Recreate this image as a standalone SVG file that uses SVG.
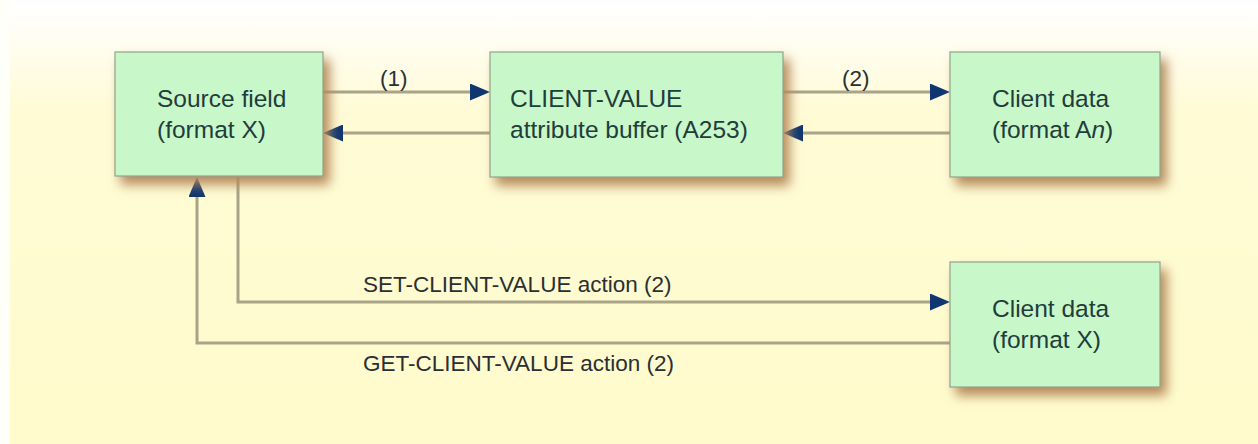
<svg xmlns="http://www.w3.org/2000/svg" width="1258" height="444" viewBox="0 0 1258 444">
  <defs>
    <linearGradient id="bg" x1="0" y1="0" x2="0" y2="1">
      <stop offset="0" stop-color="#ffffff"/>
      <stop offset="0.05" stop-color="#fffef8"/>
      <stop offset="0.25" stop-color="#fffbd6"/>
      <stop offset="1" stop-color="#fffbcc"/>
    </linearGradient>
    <filter id="shadow" x="-20%" y="-20%" width="150%" height="160%">
      <feDropShadow dx="6" dy="8" stdDeviation="6" flood-color="#b5895a" flood-opacity="1"/>
    </filter>
    <marker id="arrow" markerUnits="userSpaceOnUse" markerWidth="20" markerHeight="17" refX="0" refY="8.5" orient="auto">
      <path d="M0,0 L20,8.5 L0,17 Z" fill="#0f3670"/>
    </marker>
    <style>
      .box { fill: #c8f7ca; stroke: #8fa38c; stroke-width: 1.2; filter: url(#shadow); }
      .btxt { font-family: "Liberation Sans", Arial, sans-serif; font-size: 24.5px; fill: #1f3d3a; }
      .ltxt { font-family: "Liberation Sans", Arial, sans-serif; font-size: 22.5px; fill: #2a2f33; }
      .conn { fill: none; stroke: #a9a388; stroke-width: 3; marker-end: url(#arrow); }
    </style>
  </defs>

  <!-- backdrop -->
  <rect x="0" y="0" width="1258" height="444" fill="#fffffa"/>
  <rect x="10" y="0" width="1248" height="444" fill="url(#bg)"/>

  <!-- connectors -->
  <g id="connectors">
    <path class="conn" d="M323,92 H470"/>
    <path class="conn" d="M490,133 H343"/>
    <path class="conn" d="M783,92 H930"/>
    <path class="conn" d="M950,133 H803"/>
    <path class="conn" d="M238,177 V302 H930"/>
    <path class="conn" d="M950,343 H197 V197"/>
    <text class="ltxt" x="380" y="86">(1)</text>
    <text class="ltxt" x="842" y="86">(2)</text>
    <text class="ltxt" x="363" y="292">SET-CLIENT-VALUE action (2)</text>
    <text class="ltxt" x="363" y="371">GET-CLIENT-VALUE action (2)</text>
  </g>

  <g id="source-field">
    <rect class="box" x="115" y="52" width="208" height="124"/>
    <text class="btxt" x="157" y="107">Source field</text>
    <text class="btxt" x="157" y="138">(format X)</text>
  </g>

  <g id="client-value-buffer">
    <rect class="box" x="490" y="52" width="293" height="125"/>
    <text class="btxt" x="510" y="107">CLIENT-VALUE</text>
    <text class="btxt" x="510" y="138">attribute buffer (A253)</text>
  </g>

  <g id="client-data-an">
    <rect class="box" x="950" y="52" width="210" height="125"/>
    <text class="btxt" x="992" y="107">Client data</text>
    <text class="btxt" x="992" y="138">(format A<tspan font-style="italic">n</tspan>)</text>
  </g>

  <g id="client-data-x">
    <rect class="box" x="950" y="262" width="210" height="125"/>
    <text class="btxt" x="992" y="317">Client data</text>
    <text class="btxt" x="992" y="348">(format X)</text>
  </g>
</svg>
